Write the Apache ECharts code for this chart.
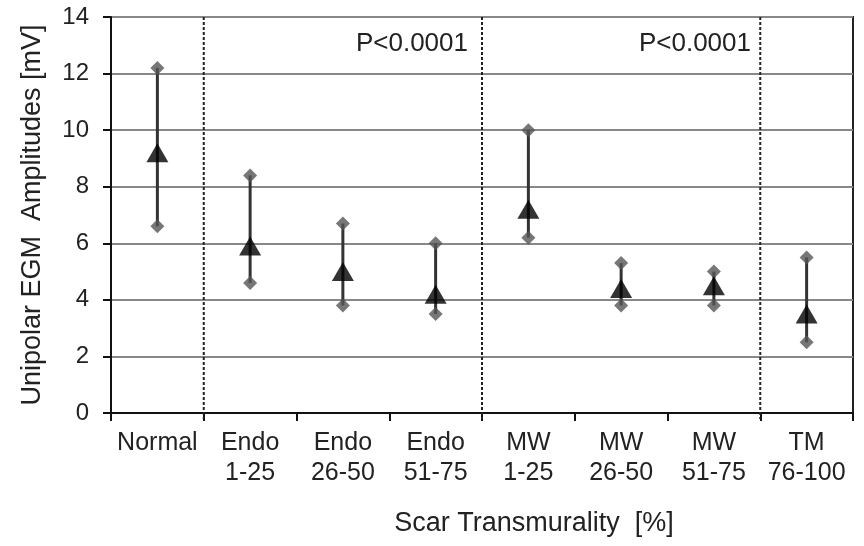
<!DOCTYPE html>
<html>
<head>
    <meta charset="utf-8">
    <title>EGM Amplitudes</title>
    <script type="text/javascript" src="https://cdn.jsdelivr.net/npm/echarts@6/dist/echarts.min.js"></script>
    <style>
        html, body { margin: 0; padding: 0; background: #fff; }
    </style>
</head>
<body>
<div id="main" style="width: 864px;height:546px;"></div>
<script type="text/javascript">
    // categories and values
    var categories = ['Normal', 'Endo\n1-25', 'Endo\n26-50', 'Endo\n51-75', 'MW\n1-25', 'MW\n26-50', 'MW\n51-75', 'TM\n76-100'];
    var median = [9.2, 5.9, 5.0, 4.2, 7.2, 4.4, 4.5, 3.5];
    var upper = [12.2, 8.4, 6.7, 6.0, 10.0, 5.3, 5.0, 5.5];
    var lower = [6.6, 4.6, 3.8, 3.5, 6.2, 3.8, 3.8, 2.5];
    var yTicks = [0, 2, 4, 6, 8, 10, 12, 14];
    // group separators: left edge of these categories
    var separators = [1, 4, 7];

    var font = 'Liberation Sans, Arial, sans-serif';
    var myChart = echarts.init(document.getElementById('main'));

    var rangeData = categories.map(function (c, i) { return [i, lower[i], upper[i]]; });
    var sepData = separators.map(function (s) { return [s, 0]; });

    var option = {
        animation: false,
        grid: { left: 111, right: 11, top: 17, bottom: 133, show: true, borderColor: '#222', borderWidth: 2 },
        xAxis: {
            type: 'category',
            data: categories,
            name: 'Scar Transmurality  [%]',
            nameLocation: 'middle',
            nameGap: 97,
            nameTextStyle: { color: '#222', fontSize: 27, fontFamily: font, padding: [0, 0, 0, 104] },
            axisLine: { lineStyle: { color: '#111', width: 2 } },
            axisTick: { show: true, length: 8, lineStyle: { color: '#111', width: 2 } },
            axisLabel: { color: '#222', fontSize: 25, fontFamily: font, margin: 15, lineHeight: 30, interval: 0 },
            splitLine: { show: false }
        },
        yAxis: {
            type: 'value',
            min: yTicks[0],
            max: yTicks[yTicks.length - 1],
            interval: 2,
            name: 'Unipolar EGM  Amplitudes [mV]',
            nameLocation: 'middle',
            nameGap: 65,
            nameTextStyle: { color: '#222', fontSize: 27, fontFamily: font },
            axisLine: { show: true, lineStyle: { color: '#111', width: 2 } },
            axisTick: { show: true, length: 8, lineStyle: { color: '#111', width: 2 } },
            axisLabel: { color: '#222', fontSize: 24, fontFamily: font, margin: 22 },
            splitLine: { show: true, lineStyle: { color: '#888', width: 2 } }
        },
        graphic: [
            { type: 'text', right: 864 - 468, top: 31, style: { text: 'P<0.0001', fontSize: 26, fontFamily: font, fill: '#222' } },
            { type: 'text', right: 864 - 751, top: 31, style: { text: 'P<0.0001', fontSize: 26, fontFamily: font, fill: '#222' } }
        ],
        series: [
            {
                // dashed group separators at category boundaries
                type: 'custom',
                silent: true,
                data: sepData,
                renderItem: function (params, api) {
                    var idx = api.value(0);
                    var band = api.size([1, 0])[0];
                    var x = api.coord([idx, 0])[0] - band / 2;
                    var cs = params.coordSys;
                    return {
                        type: 'line',
                        shape: { x1: x, y1: cs.y, x2: x, y2: cs.y + cs.height + 6 },
                        style: { stroke: '#222', lineWidth: 2, lineDash: [3, 2] }
                    };
                },
                z: 1
            },
            {
                type: 'custom',
                silent: true,
                data: rangeData,
                renderItem: function (params, api) {
                    var p1 = api.coord([api.value(0), api.value(1)]);
                    var p2 = api.coord([api.value(0), api.value(2)]);
                    return {
                        type: 'line',
                        shape: { x1: p1[0], y1: p1[1], x2: p2[0], y2: p2[1] },
                        style: { stroke: '#333', lineWidth: 3 }
                    };
                },
                z: 2
            },
            {
                type: 'scatter',
                data: upper,
                symbol: 'diamond',
                symbolSize: [14, 14],
                itemStyle: { color: '#555' },
                z: 3
            },
            {
                type: 'scatter',
                data: lower,
                symbol: 'diamond',
                symbolSize: [14, 14],
                itemStyle: { color: '#555' },
                z: 3
            },
            {
                type: 'scatter',
                data: median,
                symbol: 'triangle',
                symbolSize: [22, 19],
                itemStyle: { color: '#000' },
                z: 4
            }
        ]
    };

    myChart.setOption(option);
</script>
</body>
</html>
